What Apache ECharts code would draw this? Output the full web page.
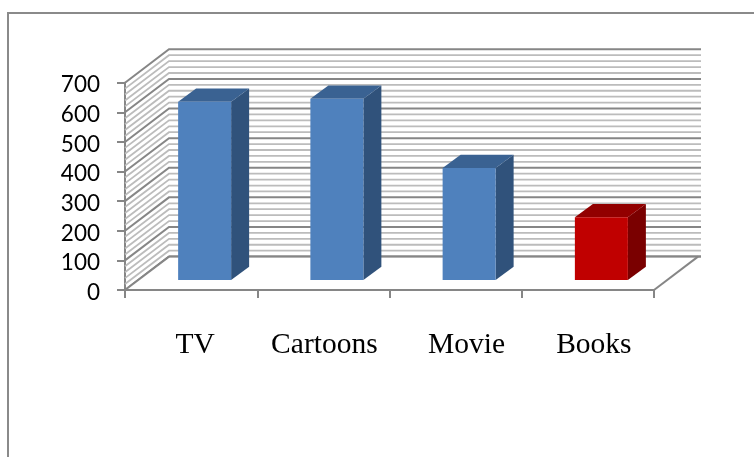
<!DOCTYPE html>
<html>
<head>
<meta charset="utf-8">
<style>html,body{margin:0;padding:0;background:#fff}#c{width:754px;height:457px}</style>
<script src="https://cdn.jsdelivr.net/npm/echarts@6/dist/echarts.min.js"></script>
</head>
<body>
<div id="c"></div>
<script>
const categories = ['TV', 'Cartoons', 'Movie', 'Books'];
const values = [602, 612, 378, 212];
const yTicks = [0, 100, 200, 300, 400, 500, 600, 700];
const wallLines = [0, 20, 40, 60, 80, 100, 120, 140, 160, 180, 200, 220, 240, 260, 280, 300, 320, 340, 360, 380, 400, 420, 440, 460, 480, 500, 520, 540, 560, 580, 600, 620, 640, 660, 680, 700];

const DX = 44, DY = 33.4, WALL_EXTRA = 3;
const BAR_W = 53, BAR_SHIFT = 13.5, BAR_LIFT = 10, DEPTH_X = 18, DEPTH_Y = 13.3;
const LABEL_NUDGE = [4, 1, 11, 6];
const BLUE = ['#4f81bd', '#30527b', '#3a6292'];
const RED = ['#c00000', '#7a0000', '#920000'];
const GREY = '#868686', LIGHT = '#bcbcbc';

const chart = echarts.init(document.getElementById('c'), null, {renderer: 'canvas'});
const rich = {};
LABEL_NUDGE.forEach((n, i) => { rich['c' + i] = {padding: [0, 0, 0, n * 2]}; });

chart.setOption({
  animation: false,
  backgroundColor: '#fff',
  graphic: [
    {type: 'polyline', silent: true, z: 0, shape: {points: [[8, 457], [8, 13], [754, 13]]},
     style: {stroke: '#8a8a8a', lineWidth: 2, fill: null}}
  ],
  grid: {left: 125, top: 82.7, width: 529, height: 207.3},
  xAxis: {
    type: 'category', data: categories, boundaryGap: true,
    axisLine: {lineStyle: {color: GREY, width: 2}},
    axisTick: {show: true, length: 8, alignWithLabel: false, lineStyle: {color: GREY, width: 2}},
    axisLabel: {
      margin: 40, fontFamily: 'Liberation Serif', fontSize: 29.5, color: '#000', interval: 0, rich,
      formatter: (v, i) => '{c' + i + '|' + v + '}'
    },
    z: 5
  },
  yAxis: {
    type: 'value', min: 0, max: 700, interval: 100,
    axisLine: {show: true, lineStyle: {color: GREY, width: 2}},
    axisTick: {show: true, length: 8, lineStyle: {color: GREY, width: 2}},
    axisLabel: {
      margin: 25, color: '#000',
      formatter: '{n|{value}}',
      rich: {n: {fontFamily: 'Lato', fontSize: 22.5, color: '#000', padding: [5, 0, 0, 0]}}
    },
    splitLine: {show: false}
  },
  series: [
    {
      type: 'custom', silent: true, clip: false, z: 2,
      data: wallLines.map(v => [0, v]),
      encode: {x: 0, y: 1},
      renderItem(params, api) {
        const v = api.value(1);
        const cs = params.coordSys;
        const y = api.coord([0, v])[1];
        const major = yTicks.includes(v);
        const stroke = major ? GREY : LIGHT;
        const lw = major ? 2 : 1.8;
        const left = cs.x, right = cs.x + cs.width;
        return {
          type: 'group',
          children: [
            {type: 'polyline', shape: {points: [[left, y], [left + DX, y - DY], [right + DX + WALL_EXTRA, y - DY]]},
             style: {stroke, lineWidth: lw, fill: null}}
          ]
        };
      }
    },
    {
      type: 'custom', silent: true, clip: false, z: 3,
      data: [[0, 0]],
      encode: {x: 0, y: 1},
      renderItem(params, api) {
        const cs = params.coordSys;
        const y0 = api.coord([0, 0])[1];
        const l = cs.x, r = cs.x + cs.width;
        return {
          type: 'group',
          children: [
            {type: 'polygon', shape: {points: [[l + 1, y0 - 1], [l + DX, y0 - DY + 1], [r + DX, y0 - DY + 1], [r, y0 - 1]]},
             style: {fill: '#fff'}},
            {type: 'line', shape: {x1: l, y1: y0, x2: l + DX, y2: y0 - DY}, style: {stroke: GREY, lineWidth: 2}},
            {type: 'line', shape: {x1: l + DX, y1: y0 - DY, x2: r + DX + WALL_EXTRA, y2: y0 - DY}, style: {stroke: GREY, lineWidth: 2}},
            {type: 'line', shape: {x1: r, y1: y0, x2: r + DX, y2: y0 - DY}, style: {stroke: GREY, lineWidth: 2}}
          ]
        };
      }
    },
    {
      type: 'custom', silent: true, clip: false, z: 4,
      data: values.map((v, i) => [i, v]),
      encode: {x: 0, y: 1},
      renderItem(params, api) {
        const i = api.value(0), v = api.value(1);
        const top = api.coord([i, v]);
        const base = api.coord([i, 0]);
        const x0 = top[0] + BAR_SHIFT - BAR_W / 2, x1 = x0 + BAR_W;
        const yt = top[1] - BAR_LIFT, yb = base[1] - BAR_LIFT;
        const c = categories[i] === 'Books' ? RED : BLUE;
        return {
          type: 'group',
          children: [
            {type: 'polygon', shape: {points: [[x1, yb], [x1 + DEPTH_X, yb - DEPTH_Y], [x1 + DEPTH_X, yt - DEPTH_Y], [x1, yt]]}, style: {fill: c[1]}},
            {type: 'polygon', shape: {points: [[x0, yt], [x0 + DEPTH_X, yt - DEPTH_Y], [x1 + DEPTH_X, yt - DEPTH_Y], [x1, yt]]}, style: {fill: c[2]}},
            {type: 'rect', shape: {x: x0, y: yt, width: BAR_W, height: yb - yt}, style: {fill: c[0]}}
          ]
        };
      }
    }
  ]
});
</script>
</body>
</html>
